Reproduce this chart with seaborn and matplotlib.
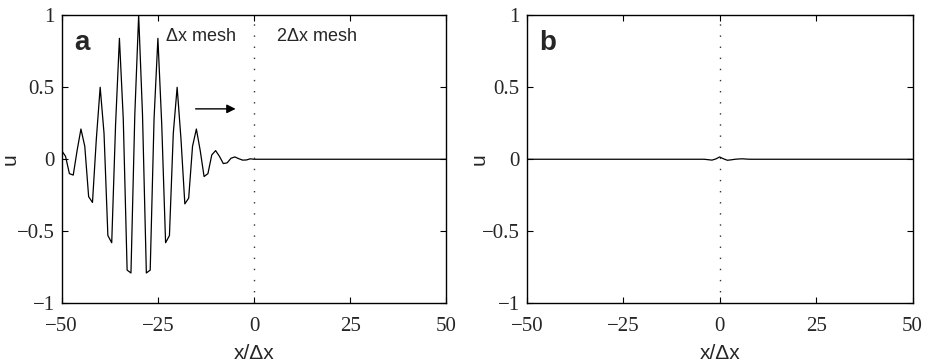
import numpy as np
import pandas as pd
import matplotlib
matplotlib.use("Agg")
import matplotlib.pyplot as plt
import seaborn as sns

x_grid = list(range(-50, 51))

u_panel_a = [
    0.06, 0.02, -0.10, -0.11, 0.06, 0.21, 0.09, -0.26, -0.30, 0.14,    # -50..-41
    0.50, 0.18, -0.53, -0.58, 0.24, 0.84, 0.28, -0.77, -0.79, 0.31,    # -40..-31
    1.00, 0.31, -0.79, -0.77, 0.28, 0.84, 0.24, -0.58, -0.53, 0.18,    # -30..-21
    0.50, 0.14, -0.31, -0.27, 0.09, 0.21, 0.06, -0.12, -0.10, 0.03,    # -20..-11
    0.06, 0.02, -0.03, -0.025, 0.007, 0.016, 0.004, -0.006, -0.005, 0.003,  # -10..-1
    0.0, 0.0, 0.0, 0.0, 0.0, 0.0, 0.0, 0.0, 0.0, 0.0,                  # 0..9
    0.0, 0.0, 0.0, 0.0, 0.0, 0.0, 0.0, 0.0, 0.0, 0.0,                  # 10..19
    0.0, 0.0, 0.0, 0.0, 0.0, 0.0, 0.0, 0.0, 0.0, 0.0,                  # 20..29
    0.0, 0.0, 0.0, 0.0, 0.0, 0.0, 0.0, 0.0, 0.0, 0.0,                  # 30..39
    0.0, 0.0, 0.0, 0.0, 0.0, 0.0, 0.0, 0.0, 0.0, 0.0, 0.0,             # 40..50
]

u_panel_b = [
    0.0, 0.0, 0.0, 0.0, 0.0, 0.0, 0.0, 0.0, 0.0, 0.0,                  # -50..-41
    0.0, 0.0, 0.0, 0.0, 0.0, 0.0, 0.0, 0.0, 0.0, 0.0,                  # -40..-31
    0.0, 0.0, 0.0, 0.0, 0.0, 0.0, 0.0, 0.0, 0.0, 0.0,                  # -30..-21
    0.0, 0.0, 0.0, 0.0, 0.0, 0.0, 0.0, 0.0, 0.0, 0.0,                  # -20..-11
    0.0, 0.0, 0.0, 0.0, 0.0, 0.0, 0.0, -0.003, -0.006, 0.002,          # -10..-1
    0.016, 0.003, -0.007, -0.004, 0.0, 0.002, 0.003, 0.001, 0.0, 0.0,  # 0..9
    0.0, 0.0, 0.0, 0.0, 0.0, 0.0, 0.0, 0.0, 0.0, 0.0,                  # 10..19
    0.0, 0.0, 0.0, 0.0, 0.0, 0.0, 0.0, 0.0, 0.0, 0.0,                  # 20..29
    0.0, 0.0, 0.0, 0.0, 0.0, 0.0, 0.0, 0.0, 0.0, 0.0,                  # 30..39
    0.0, 0.0, 0.0, 0.0, 0.0, 0.0, 0.0, 0.0, 0.0, 0.0, 0.0,             # 40..50
]

x_ticks = [-50, -25, 0, 25, 50]
x_tick_labels = ["\u221250", "\u221225", "0", "25", "50"]
y_ticks = [-1, -0.5, 0, 0.5, 1]
y_tick_labels = ["\u22121", "\u22120.5", "0", "0.5", "1"]
panel_letters = ["a", "b"]

sns.set_style("ticks")
plt.rcParams["font.family"] = ["Liberation Serif", "DejaVu Serif"]

fig = plt.figure(figsize=(9.25, 3.64), dpi=100)
ax_a = fig.add_axes([0.0667, 0.167, 0.416, 0.791])
ax_b = fig.add_axes([0.5695, 0.167, 0.417, 0.791])

sans = ["Liberation Sans", "DejaVu Sans"]

for ax, u, letter, ylab_x in zip([ax_a, ax_b], [u_panel_a, u_panel_b],
                                 panel_letters, [-0.110, -0.100]):
    df = pd.DataFrame({"x": x_grid, "u": u})
    sns.lineplot(data=df, x="x", y="u", ax=ax, color="black", linewidth=0.9,
                 estimator=None, sort=False)
    # interface between the two meshes
    ax.axvline(0, color="#333333", linewidth=1.0, linestyle=(0, (1, 7)))
    ax.set_xlim(-50, 50)
    ax.set_ylim(-1, 1)
    ax.set_xticks(x_ticks)
    ax.set_xticklabels(x_tick_labels)
    ax.set_yticks(y_ticks)
    ax.set_yticklabels(y_tick_labels)
    ax.tick_params(direction="in", length=4, width=0.8, labelsize=15,
                   top=True, right=True, color="black")
    ax.tick_params(axis="x", pad=10)
    ax.tick_params(axis="y", pad=5)
    for sp in ax.spines.values():
        sp.set_visible(True)
        sp.set_linewidth(1.0)
        sp.set_color("black")
    ax.set_xlabel("x/\u0394x", family=sans, fontsize=15, labelpad=6)
    ax.set_ylabel("u", family=sans, fontsize=15)
    ax.yaxis.set_label_coords(ylab_x, 0.5)
    ax.text(-46.8, 0.81, letter, family=sans, fontsize=20, fontweight="bold",
            va="center", ha="left")

ax_a.text(-22.8, 0.85, "\u0394x mesh", family=sans, fontsize=13, va="center", ha="left")
ax_a.text(6.0, 0.85, "2\u0394x mesh", family=sans, fontsize=13, va="center", ha="left")
ax_a.annotate("", xy=(-4.8, 0.35), xytext=(-15.2, 0.35),
              arrowprops=dict(arrowstyle="-|>", color="black", lw=1.0,
                              mutation_scale=13, shrinkA=0, shrinkB=0))

fig.savefig("out.png", dpi=100)
plt.close(fig)
